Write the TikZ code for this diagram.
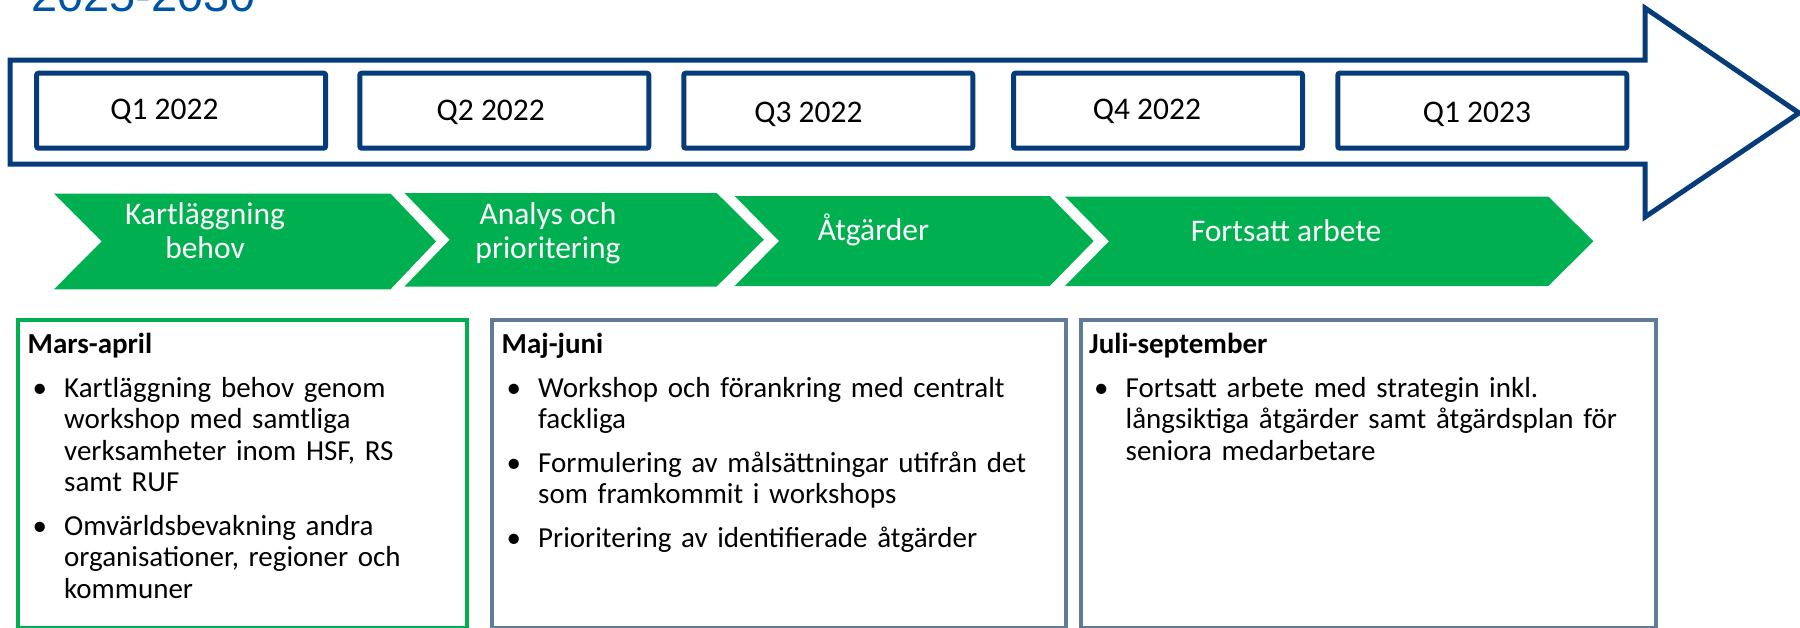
\documentclass[tikz,border=0pt]{standalone}
\usepackage{fontspec}
\setmainfont{Carlito}
\newfontfamily\titlefont{Liberation Sans}
\usepackage{tikz}
\usetikzlibrary{positioning}

\definecolor{navy}{RGB}{6,60,122}
\definecolor{phasegreen}{RGB}{0,176,80}
\definecolor{slate}{RGB}{95,123,153}
\definecolor{titleblue}{RGB}{0,84,166}

\newcommand{\bitem}[1]{\par\vspace{12pt}\hangindent=36.5pt\hangafter=1\noindent\makebox[36.5pt][l]{\hspace{5pt}\textbullet}#1\par}

\begin{document}
\begin{tikzpicture}[
    x=1pt, y=-1pt,
    qbox/.style={rectangle, draw=navy, line width=5pt, rounded corners=2pt, minimum width=289pt, minimum height=75pt, inner sep=0pt},
    qlabel/.style={anchor=base, inner sep=0pt, font=\fontsize{31.5}{34}\selectfont},
    phase/.style={fill=phasegreen},
    phaselabel/.style={inner sep=0pt, text=white, align=center, font=\fontsize{31.5}{34}\selectfont},
    period/.style={rectangle, draw, line width=4.5pt, minimum height=308pt, inner sep=0pt},
    periodtext/.style={anchor=north west, inner sep=0pt, align=left, font=\fontsize{29}{31.5}\selectfont}
]
    \useasboundingbox (0,0) rectangle (1800,627);

    % title, only its lower edge is on the page
    \node[anchor=base west, inner sep=0pt, text=titleblue, font=\titlefont\fontsize{47}{52}\selectfont] (title) at (31,11) {2025-2030};

    % time arrow
    \draw[navy, line width=5pt] (10,60) -- (1645,60) -- (1645,8) -- (1799,113) -- (1645,217) -- (1645,164) -- (10,164) -- cycle;

    \node[qbox] (q1) at (181.1,110.7) {};
    \node[qbox] (q2) at (504.3,110.7) {};
    \node[qbox] (q3) at (828.3,110.7) {};
    \node[qbox] (q4) at (1158,110.7) {};
    \node[qbox] (q5) at (1482.3,110.7) {};
    \node[qlabel] (q1t) at (164.4,119.3) {Q1 2022};
    \node[qlabel] (q2t) at (490.8,120) {Q2 2022};
    \node[qlabel] (q3t) at (808.5,122.7) {Q3 2022};
    \node[qlabel] (q4t) at (1147,119) {Q4 2022};
    \node[qlabel] (q5t) at (1476.9,122.7) {Q1 2023};

    % phases
    \fill[phase] (54,193.5) -- (390.5,193.5) -- (436,241.4) -- (390.5,289.3) -- (54,289.3) -- (101.7,241.4) -- cycle;
    \fill[phase] (404.5,193) -- (716.7,193) -- (763.8,239.7) -- (716.7,286.5) -- (404.5,286.5) -- (449.7,239.7) -- cycle;
    \fill[phase] (734.7,196) -- (1049.7,196) -- (1093.7,241) -- (1049.7,286) -- (734.7,286) -- (779,241) -- cycle;
    \fill[phase] (1065,196.5) -- (1548.3,196.5) -- (1593.4,241.3) -- (1548.3,286) -- (1065,286) -- (1109,241.3) -- cycle;
    \node[phaselabel, anchor=north] (kart) at (205,198) {\rule{0pt}{26pt}Kartläggning\\behov};
    \node[phaselabel, anchor=north] (analys) at (548,198) {\rule{0pt}{26pt}Analys och\\prioritering};
    \node[phaselabel, anchor=base] (atg) at (873.5,240) {Åtgärder};
    \node[phaselabel, anchor=base] (forts) at (1286,241.7) {Fortsatt arbete};

    % periods
    \node[period, draw=phasegreen, minimum width=449pt] (mars) at (242.5,474) {};
    \node[period, draw=slate, minimum width=574pt] (maj) at (779,474) {};
    \node[period, draw=slate, minimum width=575pt] (juli) at (1368.5,474) {};

    \node[periodtext, text width=430pt] (marsT) at (27.5,329.3) {\rule{0pt}{24pt}\textbf{Mars-april}
        \bitem{Kartläggning behov genom\newline workshop med samtliga\newline verksamheter inom HSF, RS\newline samt RUF}
        \bitem{Omvärldsbevakning andra\newline organisationer, regioner och\newline kommuner}};
    \node[periodtext, text width=560pt] (majT) at (501.5,329.3) {\rule{0pt}{24pt}\textbf{Maj-juni}
        \bitem{Workshop och förankring med centralt\newline fackliga}
        \bitem{Formulering av målsättningar utifrån det\newline som framkommit i workshops}
        \bitem{Prioritering av identifierade åtgärder}};
    \node[periodtext, text width=560pt] (juliT) at (1089,329.3) {\rule{0pt}{24pt}\textbf{Juli-september}
        \bitem{Fortsatt arbete med strategin inkl.\newline långsiktiga åtgärder samt åtgärdsplan för\newline seniora medarbetare}};
\end{tikzpicture}
\end{document}
